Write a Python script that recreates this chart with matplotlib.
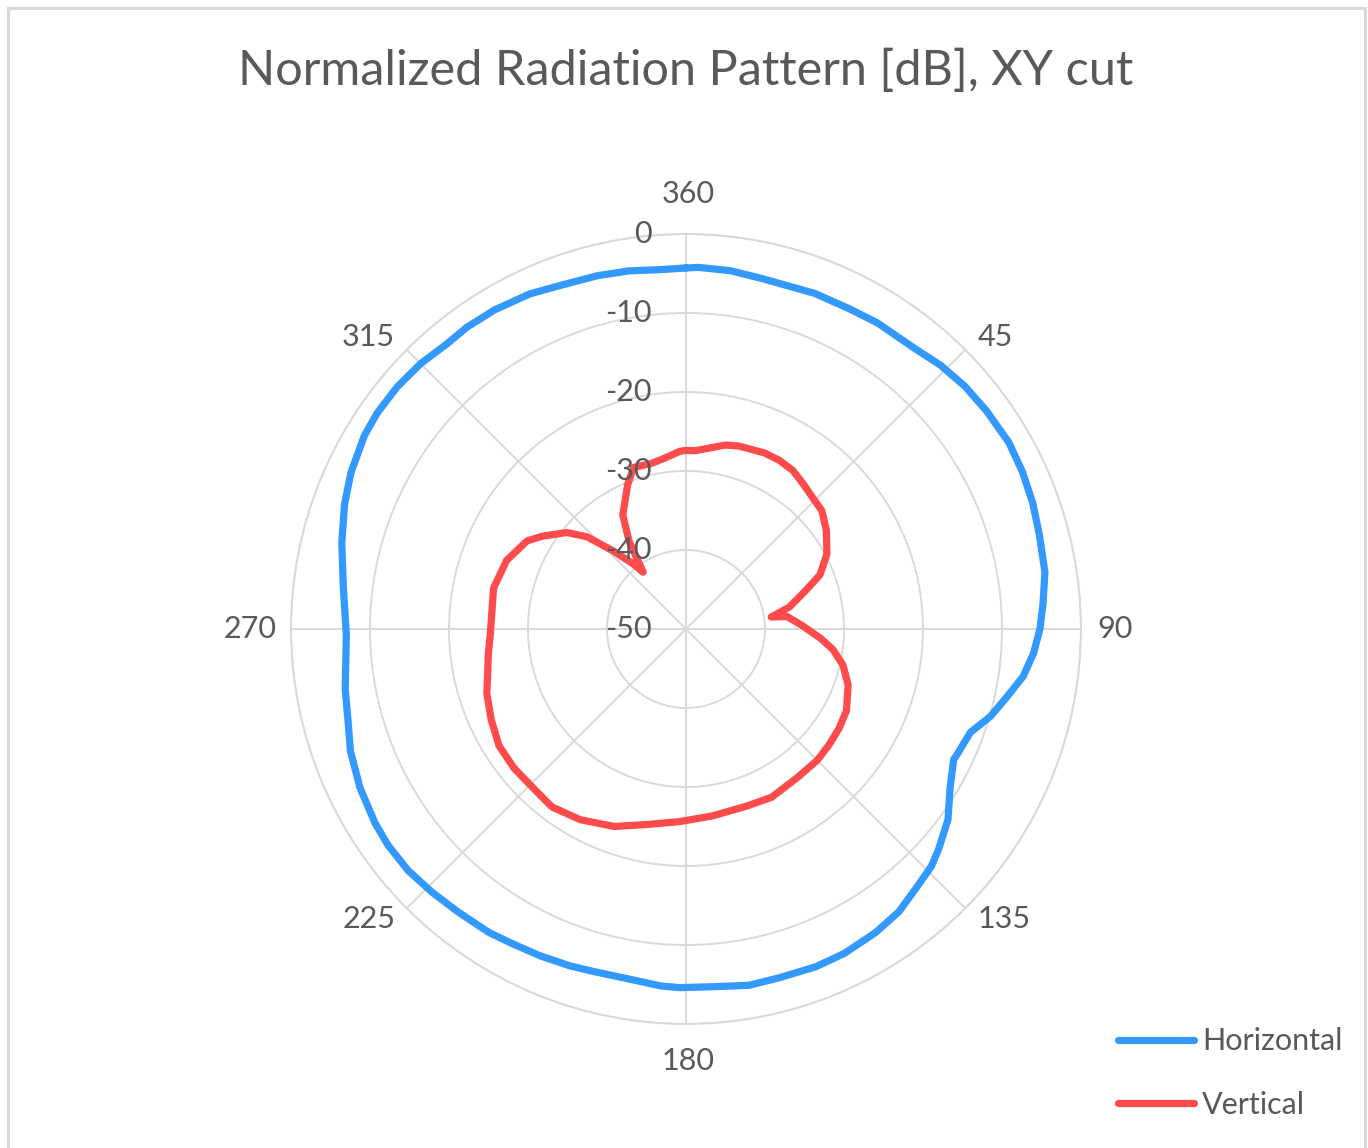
import numpy as np
import matplotlib
matplotlib.use('Agg')
import matplotlib.pyplot as plt
from matplotlib.patches import Rectangle

plt.rcParams['font.family'] = ['Lato', 'DejaVu Sans']

# Datos (ángulo en grados, nivel en dB)
ang_h = [0, 2, 7, 12, 21, 27, 32, 39, 44, 49, 54, 60, 65, 70, 75, 81, 86,
         90, 94, 98, 102, 106, 110, 115, 116, 121, 126, 131, 134, 138, 143,
         148, 154, 159, 165, 170, 176, 181, 184, 189, 195, 199, 204, 209,
         213, 219, 224, 229, 234, 238, 244, 250, 255, 260, 269, 277, 284,
         290, 295, 301, 305, 310, 315, 320, 324, 329, 335, 340, 346, 351,
         356, 360]
db_h = [-4.3, -4.2, -4.3, -4.6, -4.5, -4.5, -4.3, -4.2, -3.6, -3.2, -3.0,
        -2.8, -3.0, -3.3, -3.7, -4.0, -4.7, -5.2, -5.9, -6.9, -8.5, -9.9,
        -11.7, -12.2, -12.3, -11.0, -9.0, -7.6, -6.8, -6.2, -5.2, -4.7,
        -4.3, -4.2, -4.3, -4.2, -4.6, -4.6, -4.7, -5.1, -5.1, -4.9, -4.7,
        -4.5, -4.2, -4.0, -3.7, -3.4, -3.4, -3.6, -4.1, -4.8, -5.7, -6.2,
        -7.0, -6.3, -5.1, -4.0, -3.2, -2.5, -2.3, -2.3, -2.5, -2.9, -2.8,
        -2.9, -3.2, -3.7, -3.9, -4.1, -4.4, -4.3]

ang_v = [0, 3, 12, 16, 24, 29, 34, 39, 44, 49, 55, 62, 68, 72, 78, 82, 83,
         88, 94, 98, 103, 109, 117, 123, 129, 135, 143, 153, 161, 172, 182,
         191, 200, 209, 217, 225, 231, 238, 245, 252, 263, 268, 282, 291,
         299, 303, 309, 313, 317, 321, 323, 327, 331, 338, 342, 348, 352,
         358, 360]
db_v = [-27.4, -27.4, -26.2, -25.9, -25.6, -25.6, -25.8, -26.4, -26.9,
        -27.2, -28.3, -29.8, -31.7, -34.0, -36.6, -39.1, -37.1, -35.4,
        -32.9, -31.2, -29.6, -28.3, -27.2, -26.9, -26.7, -26.5, -26.5,
        -26.1, -26.3, -26.1, -25.6, -24.8, -23.4, -22.4, -21.8, -22.1,
        -22.0, -22.1, -22.8, -23.5, -24.8, -25.2, -25.1, -25.7, -27.0,
        -28.4, -30.6, -32.9, -36.5, -39.4, -41.0, -36.8, -33.5, -30.3,
        -28.5, -28.6, -28.3, -27.5, -27.4]

theta_ticks = [0, 45, 90, 135, 180, 225, 270, 315]
theta_labels = ['360', '45', '90', '135', '180', '225', '270', '315']
r_ticks = [0, -10, -20, -30, -40, -50]

txt = '#595959'
grid = '#d9d9d9'

fig = plt.figure(figsize=(13.68, 11.48), dpi=100)
ax = fig.add_axes([0.2127, 0.108, 0.5775, 0.6882], projection='polar')
ax.set_theta_zero_location('N')
ax.set_theta_direction(-1)
ax.set_rlim(-50, 0)

ax.plot(np.deg2rad(ang_h), db_h, color='#3399ff', lw=5.2,
        solid_joinstyle='round', solid_capstyle='round', label='Horizontal')
ax.plot(np.deg2rad(ang_v), db_v, color='#ff4b4b', lw=5.2,
        solid_joinstyle='round', solid_capstyle='round', label='Vertical')

# rejilla estilo Excel
ax.set_xticks(np.deg2rad(theta_ticks))
ax.set_yticks(r_ticks)
ax.set_xticklabels([])
ax.set_yticklabels([])
ax.grid(True, color=grid, lw=1.4)
ax.spines['polar'].set_color(grid)
ax.spines['polar'].set_linewidth(1.4)
ax.tick_params(length=0)

# etiquetas de ángulo
offs = [(2, 40), (30, 13), (34, 0), (39, -11), (2, -37), (-38, -11),
        (-41, 0), (-38, 13)]
for a, lab, (dx, dy) in zip(theta_ticks, theta_labels, offs):
    ax.annotate(lab, xy=(np.deg2rad(a), 0), xytext=(dx, dy),
                textcoords='offset pixels', ha='center', va='center',
                fontsize=22, color=txt, annotation_clip=False)

# etiquetas radiales
for r in r_ticks:
    ax.annotate(str(r), xy=(0, r), xytext=(-34, 0), textcoords='offset pixels',
                ha='right', va='center', fontsize=22, color=txt,
                annotation_clip=False)

fig.text(0.5015, 1 - 71 / 1148, 'Normalized Radiation Pattern [dB], XY cut',
         ha='center', va='center', fontsize=35, color=txt)

fig.legend(loc='center left', bbox_to_anchor=(1118 / 1368, 1 - 1073 / 1148),
           frameon=False, fontsize=22, labelcolor=txt, handlelength=2.5,
           handletextpad=0.26, labelspacing=1.16, borderpad=0, borderaxespad=0)

# borde del área del gráfico
fig.patches.append(Rectangle((8 / 1368, -0.02), 1357 / 1368, 1.02 - 8 / 1148,
                             transform=fig.transFigure, fill=False,
                             ec=grid, lw=2.2))

fig.savefig('out.png', dpi=100)
